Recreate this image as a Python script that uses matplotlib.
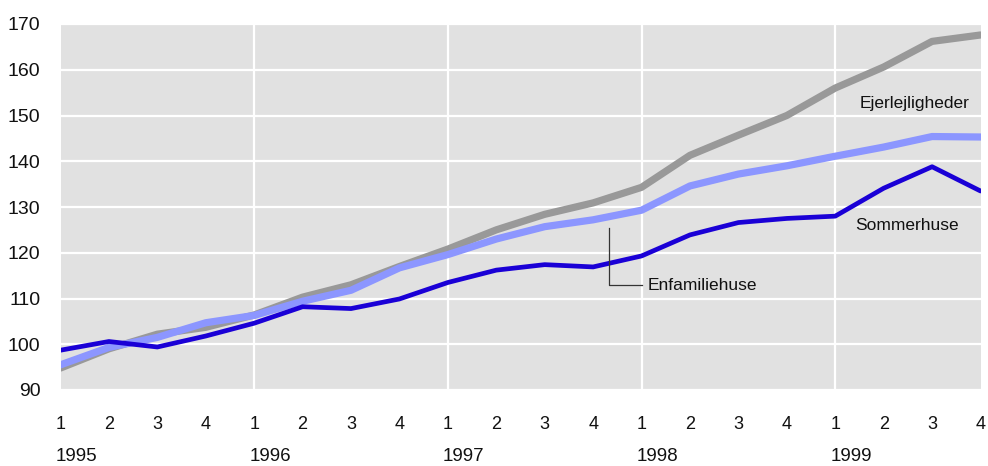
import matplotlib
matplotlib.use("Agg")
import matplotlib.pyplot as plt
import matplotlib.transforms as mtransforms

plt.rcParams['font.family'] = ['Liberation Sans', 'DejaVu Sans']

# 1995Q1 .. 1999Q4
quarters = [1, 2, 3, 4] * 5
years = ['1995', '1996', '1997', '1998', '1999']

ejerlejligheder = [94.8, 99.0, 102.2, 103.7, 106.4, 110.3, 113.0, 117.0, 120.8, 125.0,
                   128.4, 130.9, 134.3, 141.3, 145.7, 150.0, 156.0, 160.6, 166.2, 167.6]
enfamiliehuse = [95.5, 99.3, 101.5, 104.7, 106.3, 109.4, 111.8, 116.7, 119.6, 123.0,
                 125.7, 127.2, 129.3, 134.6, 137.2, 139.0, 141.1, 143.1, 145.4, 145.3]
sommerhuse = [98.7, 100.6, 99.4, 101.8, 104.6, 108.2, 107.8, 109.9, 113.5, 116.2,
              117.4, 116.9, 119.3, 123.9, 126.6, 127.5, 128.0, 134.1, 138.8, 133.5]

x = list(range(len(quarters)))

fig = plt.figure(figsize=(9.88, 4.66), dpi=100)
ax = fig.add_axes([60.5 / 988, 76 / 466, 920 / 988, 366 / 466])
ax.set_facecolor('#e1e1e1')

ax.plot(x, ejerlejligheder, color='#999999', lw=5.2, solid_capstyle='round', zorder=3)
ax.plot(x, enfamiliehuse, color='#8c96ff', lw=5.2, solid_capstyle='round', zorder=4)
ax.plot(x, sommerhuse, color='#1a00d6', lw=3.4, solid_capstyle='round', zorder=5)

ax.set_xlim(0, 19)
ax.set_ylim(90, 170)
ax.set_yticks(range(90, 171, 10))
ax.set_xticks([4, 8, 12, 16])
ax.set_xticklabels([])
ax.tick_params(length=0, axis='y', labelsize=14, pad=14.5, labelcolor='#111111')
ax.tick_params(length=0, axis='x')
ax.grid(True, color='white', lw=1.6)
ax.set_axisbelow(True)
for s in ax.spines.values():
    s.set_visible(False)

trans = mtransforms.blended_transform_factory(ax.transData, ax.transAxes)
for i, q in enumerate(quarters):
    ax.text(i, -0.093, str(q), transform=trans, ha='center', va='center',
            fontsize=13, color='#111111')
for k, yr in enumerate(years):
    ax.text(4 * k - 0.1, -0.183, yr, transform=trans, ha='left', va='center',
            fontsize=13.5, color='#111111')

# series labels
ax.text(16.5, 152.6, 'Ejerlejligheder', ha='left', va='center', fontsize=12.5, color='#111111')
ax.text(16.42, 125.9, 'Sommerhuse', ha='left', va='center', fontsize=12.5, color='#111111')
ax.text(12.13, 112.8, 'Enfamiliehuse', ha='left', va='center', fontsize=12.5, color='#111111')
ax.plot([11.32, 11.32, 12.0], [125.4, 113.0, 113.0], color='#333333', lw=0.9, zorder=6)

fig.savefig('out.png', dpi=100)
